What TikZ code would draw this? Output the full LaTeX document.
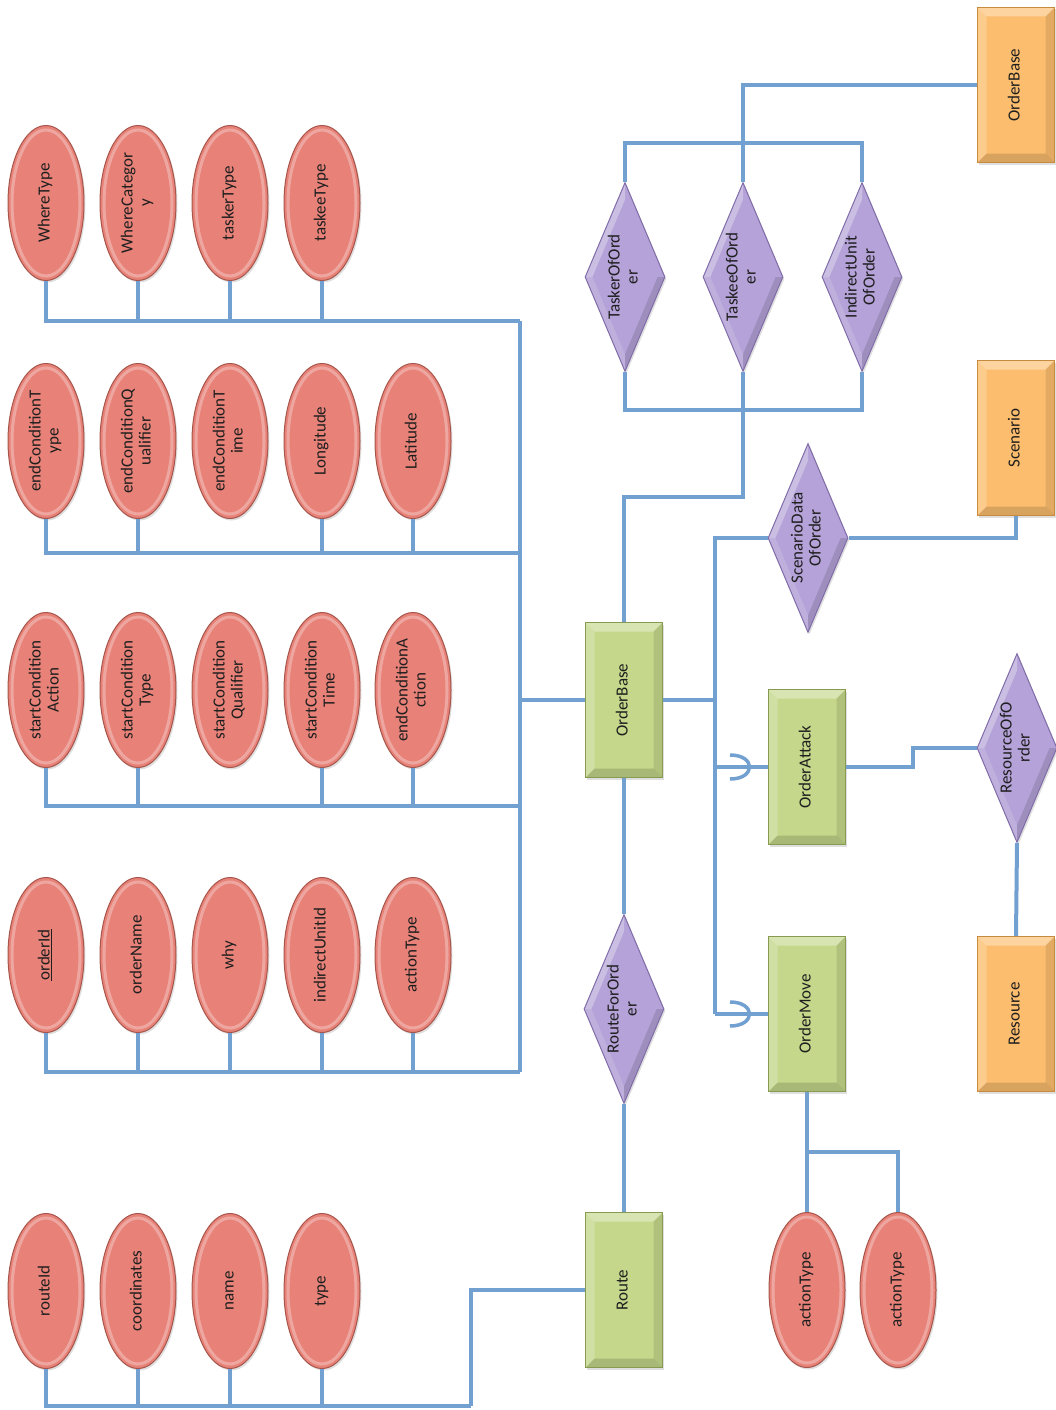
\documentclass[tikz,border=0pt]{standalone}
\usepackage{fontspec}
\setmainfont{Carlito}
\usetikzlibrary{shapes.geometric,shadows,calc}

\definecolor{attrfill}{RGB}{232,130,120}
\definecolor{attrdraw}{RGB}{165,85,75}
\definecolor{relfill}{RGB}{180,162,216}
\definecolor{reldraw}{RGB}{128,108,168}
\definecolor{entfill}{RGB}{196,215,138}
\definecolor{entdraw}{RGB}{135,155,80}
\definecolor{extfill}{RGB}{252,190,110}
\definecolor{extdraw}{RGB}{200,138,60}
\definecolor{linkc}{RGB}{114,160,208}
\definecolor{txt}{RGB}{30,30,30}

% vertical (bottom-to-top) label, lines separated by \\
\newcommand\vlbl[1]{\rotatebox{90}{\begin{tabular}{@{}c@{}}#1\end{tabular}}}

\tikzset{
  boxbevel/.style={path picture={
    \path (path picture bounding box.north west) coordinate (bNW)
          (path picture bounding box.north east) coordinate (bNE)
          (path picture bounding box.south west) coordinate (bSW)
          (path picture bounding box.south east) coordinate (bSE);
    \fill[white,opacity=.35] (bNW) -- (bNE) -- ([shift={(-9pt,-9pt)}]bNE) -- ([shift={(9pt,-9pt)}]bNW) -- cycle;
    \fill[white,opacity=.22] (bNW) -- ([shift={(9pt,-9pt)}]bNW) -- ([shift={(9pt,9pt)}]bSW) -- (bSW) -- cycle;
    \fill[black,opacity=.14] (bSW) -- (bSE) -- ([shift={(-9pt,9pt)}]bSE) -- ([shift={(9pt,9pt)}]bSW) -- cycle;
    \fill[black,opacity=.10] (bNE) -- (bSE) -- ([shift={(-9pt,9pt)}]bSE) -- ([shift={(-9pt,-9pt)}]bNE) -- cycle;
  }},
  relbevel/.style={path picture={
    \path (path picture bounding box.center) coordinate (dC)
          (path picture bounding box.north) coordinate (dN)
          (path picture bounding box.south) coordinate (dS)
          (path picture bounding box.west) coordinate (dW)
          (path picture bounding box.east) coordinate (dE);
    \fill[white,opacity=.30] (dW) -- (dN) -- ($(dC)!.82!(dN)$) -- ($(dC)!.82!(dW)$) -- cycle;
    \fill[white,opacity=.15] (dW) -- (dS) -- ($(dC)!.82!(dS)$) -- ($(dC)!.82!(dW)$) -- cycle;
    \fill[black,opacity=.12] (dE) -- (dS) -- ($(dC)!.82!(dS)$) -- ($(dC)!.82!(dE)$) -- cycle;
  }},
  attr/.style={ellipse, draw=attrdraw, line width=1pt, fill=attrfill,
    minimum width=76pt, minimum height=155pt, inner sep=0pt, text=txt,
    drop shadow={shadow xshift=1.5pt, shadow yshift=-2pt, opacity=.25},
    path picture={\draw[white,opacity=.3,line width=3pt]
      (path picture bounding box.center) ellipse [x radius=34pt, y radius=73pt];}},
  entity/.style={rectangle, draw=entdraw, line width=1pt, fill=entfill,
    minimum width=77pt, minimum height=155pt, inner sep=0pt, text=txt, boxbevel,
    drop shadow={shadow xshift=1.5pt, shadow yshift=-2pt, opacity=.25}},
  extent/.style={entity, draw=extdraw, fill=extfill},
  rel/.style={diamond, draw=reldraw, line width=1pt, fill=relfill,
    minimum width=80pt, minimum height=189pt, inner sep=0pt, relbevel,
    drop shadow={shadow xshift=1.5pt, shadow yshift=-2pt, opacity=.25}},
  every label/.style={text=txt, inner sep=0pt},
  link/.style={draw=linkc, line width=4pt},
}

\begin{document}
\begin{tikzpicture}[x=1pt, y=-1pt, font=\fontsize{17}{18}\selectfont]
\useasboundingbox (0,0) rectangle (1056,1410);

% ---- attribute rows of OrderBase
\node[attr] (wt)   at (46,203)  {\vlbl{WhereType}};
\node[attr] (wc)   at (138,203) {\vlbl{WhereCategor\\y}};
\node[attr] (tkr)  at (230,203) {\vlbl{taskerType}};
\node[attr] (tke)  at (322,203) {\vlbl{taskeeType}};

\node[attr] (ect)  at (46,441)  {\vlbl{endConditionT\\ype}};
\node[attr] (ecq)  at (138,441) {\vlbl{endConditionQ\\ualifier}};
\node[attr] (ecti) at (230,441) {\vlbl{endConditionT\\ime}};
\node[attr] (lon)  at (322,441) {\vlbl{Longitude}};
\node[attr] (lat)  at (413,441) {\vlbl{Latitude}};

\node[attr] (sca)  at (46,690)  {\vlbl{startCondition\\Action}};
\node[attr] (sct)  at (138,690) {\vlbl{startCondition\\Type}};
\node[attr] (scq)  at (230,690) {\vlbl{startCondition\\Qualifier}};
\node[attr] (scti) at (322,690) {\vlbl{startCondition\\Time}};
\node[attr] (eca)  at (413,690) {\vlbl{endConditionA\\ction}};

\node[attr] (oid)   at (46,955)  {\vlbl{\underline{orderId}}};
\node[attr] (oname) at (138,955) {\vlbl{orderName}};
\node[attr] (why)   at (230,955) {\vlbl{why}};
\node[attr] (iuid)  at (322,955) {\vlbl{indirectUnitId}};
\node[attr] (atype) at (413,955) {\vlbl{actionType}};

% ---- attributes of Route
\node[attr] (rid)   at (46,1291)  {\vlbl{routeId}};
\node[attr] (coord) at (138,1291) {\vlbl{coordinates}};
\node[attr] (rname) at (230,1291) {\vlbl{name}};
\node[attr] (rtype) at (322,1291) {\vlbl{type}};

% ---- attributes of OrderMove
\node[attr] (mat1) at (807,1290) {\vlbl{actionType}};
\node[attr] (mat2) at (898,1290) {\vlbl{actionType}};

% ---- entities
\node[entity] (ob)    at (624,700)  {\vlbl{OrderBase}};
\node[entity] (oatk)  at (807,767)  {\vlbl{OrderAttack}};
\node[entity] (omove) at (807,1014) {\vlbl{OrderMove}};
\node[entity] (route) at (624,1290) {\vlbl{Route}};

\node[extent] (xob)  at (1016,85)   {\vlbl{OrderBase}};
\node[extent] (scen) at (1016,438)  {\vlbl{Scenario}};
\node[extent] (res)  at (1016,1014) {\vlbl{Resource}};

% ---- relationships
\node[rel, label={center:{\vlbl{TaskerOfOrd\\er}}}]     (tasker) at (625,277) {};
\node[rel, label={center:{\vlbl{TaskeeOfOrd\\er}}}]     (taskee) at (743,277) {};
\node[rel, label={center:{\vlbl{IndirectUnit\\OfOrder}}}] (indir) at (862,277) {};
\node[rel, label={center:{\vlbl{ScenarioData\\OfOrder}}}] (sdo)   at (808,538) {};
\node[rel, label={center:{\vlbl{ResourceOfO\\rder}}}]   (roo)    at (1017,748) {};
\node[rel, label={center:{\vlbl{RouteForOrd\\er}}}]     (rfo)    at (624,1009) {};

% ---- bus junctions
\coordinate (b1) at (520,321);
\coordinate (b2) at (520,553);
\coordinate (b3) at (520,806);
\coordinate (b4) at (520,1072);
\coordinate (b5) at (471,1406);
\coordinate (kb) at (743,410);
\coordinate (kt) at (743,143);
\coordinate (tj) at (743,497);
\coordinate (mb) at (715,1014);
\coordinate (rj) at (913,748);
\coordinate (mj) at (807,1152);

% ---- attribute buses
\foreach \a in {wt,wc,tkr,tke} \draw[link] (\a.south) |- (b1);
\foreach \a in {ect,ecq,lon,lat} \draw[link] (\a.south) |- (b2);
\foreach \a in {sca,sct,scti,eca} \draw[link] (\a.south) |- (b3);
\foreach \a in {oid,oname,why,iuid,atype} \draw[link] (\a.south) |- (b4);
\foreach \a in {rid,coord,rname,rtype} \draw[link] (\a.south) |- (b5);
\draw[link] (b1) -- (b4);
\draw[link] (ob.west) -- (ob.west -| b1);
\draw[link] (b5) |- (route.west);

% ---- relationships of OrderBase
\draw[link] (tasker.south) |- (kb) -| (indir.south);
\draw[link] (tasker.north) |- (kt) -| (indir.north);
\draw[link] (taskee.north) |- (xob.west);
\draw[link] (taskee.south) -- (tj) -| (ob.north);
\draw[link] (scen.south) |- (sdo.east);
\draw[link] (sdo.west) -| (mb);
\draw[link] (ob.east) -- (ob.east -| mb);
\draw[link] (ob.south) -- (rfo.north);
\draw[link] (rfo.south) -- (route.north);

% ---- subclasses
\draw[link] (oatk.west -| mb) -- (oatk.west);
\draw[link] (mb) -- (omove.west);
\foreach \s in {oatk,omove}
  \draw[link, line width=3.5pt] ([shift={(-38pt,12pt)}]\s.west)
    .. controls ([shift={(-12pt,12pt)}]\s.west) and ([shift={(-12pt,-12pt)}]\s.west)
    .. ([shift={(-38pt,-12pt)}]\s.west);

\draw[link] (oatk.east) -| (rj) -- (roo.west);
\draw[link] (roo.south) -- (res.north);
\draw[link] (omove.south) -- (mj) -- (mat1.north);
\draw[link] (mj) -| (mat2.north);
\end{tikzpicture}
\end{document}
